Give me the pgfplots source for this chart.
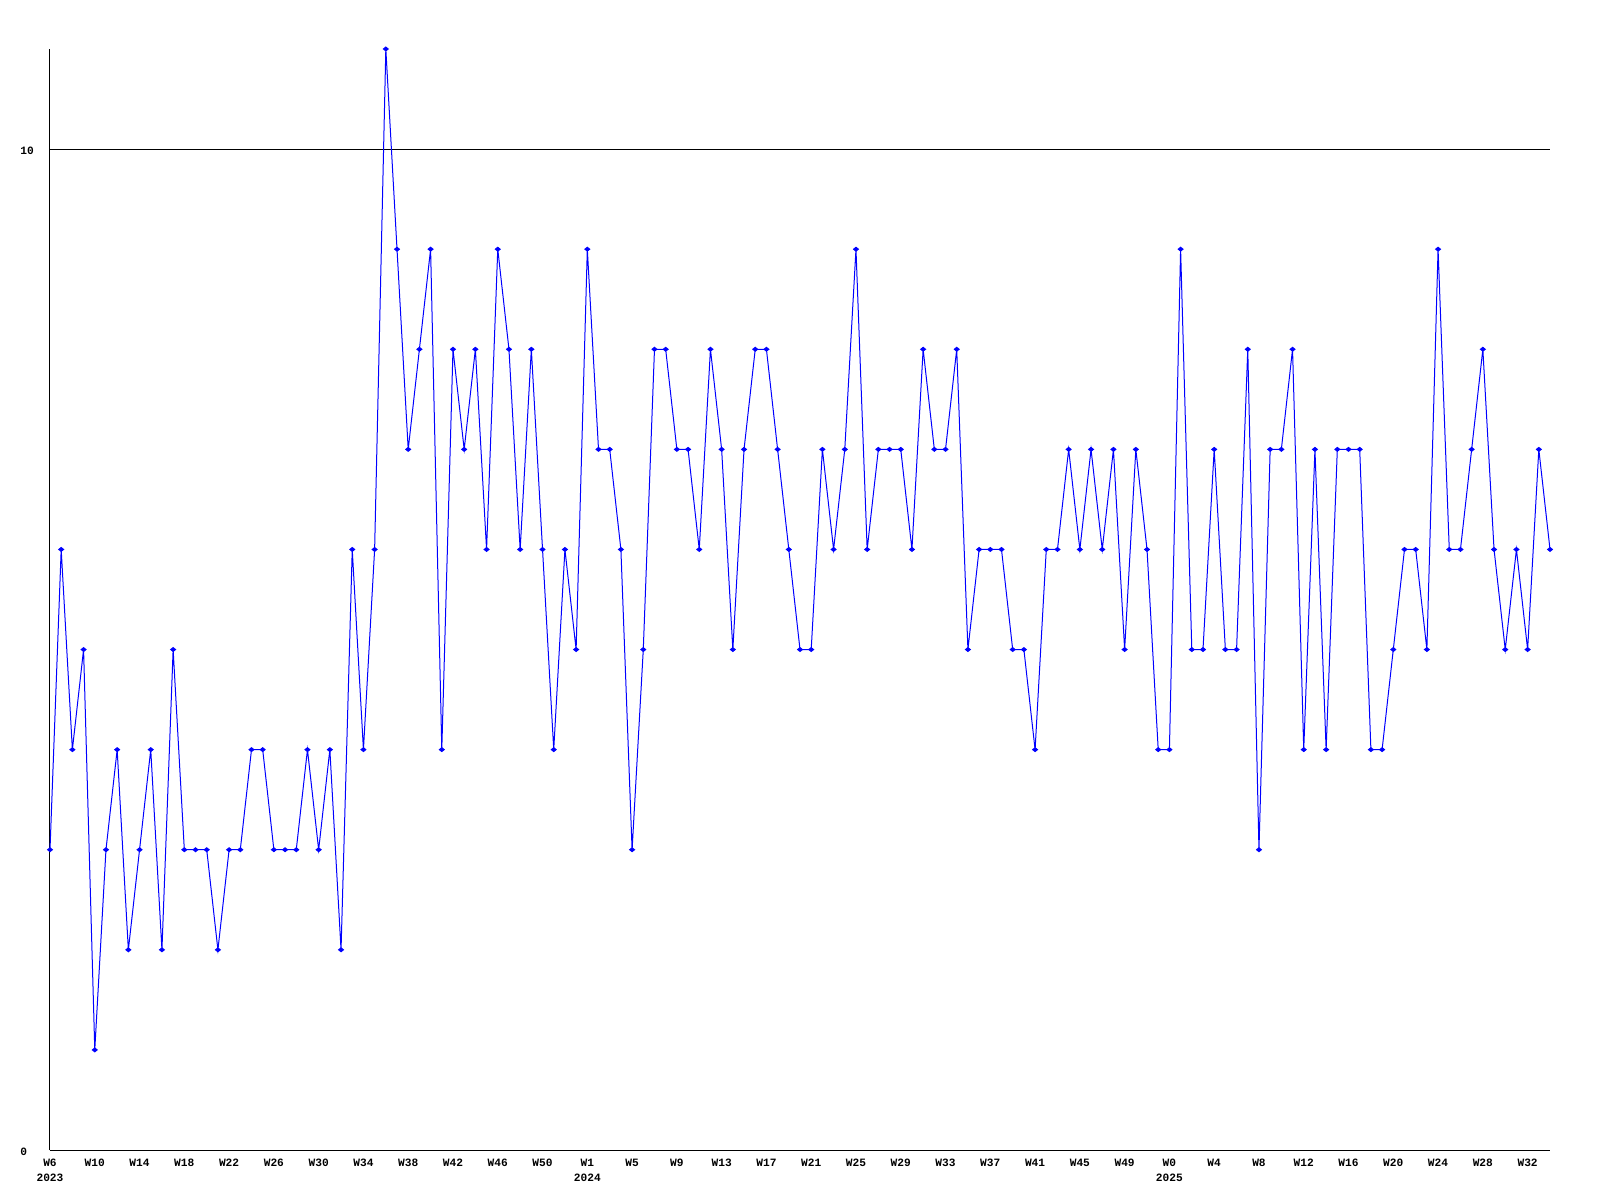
\documentclass[border=0pt]{standalone}
\usepackage{pgfplots}
\pgfplotsset{compat=1.18}
\usepackage{pgfplotstable}
\usepackage{fontspec}
\setmainfont{Liberation Mono}
\pgfplotstableread{
i v
0 3
1 6
2 4
3 5
4 1
5 3
6 4
7 2
8 3
9 4
10 2
11 5
12 3
13 3
14 3
15 2
16 3
17 3
18 4
19 4
20 3
21 3
22 3
23 4
24 3
25 4
26 2
27 6
28 4
29 6
30 11
31 9
32 7
33 8
34 9
35 4
36 8
37 7
38 8
39 6
40 9
41 8
42 6
43 8
44 6
45 4
46 6
47 5
48 9
49 7
50 7
51 6
52 3
53 5
54 8
55 8
56 7
57 7
58 6
59 8
60 7
61 5
62 7
63 8
64 8
65 7
66 6
67 5
68 5
69 7
70 6
71 7
72 9
73 6
74 7
75 7
76 7
77 6
78 8
79 7
80 7
81 8
82 5
83 6
84 6
85 6
86 5
87 5
88 4
89 6
90 6
91 7
92 6
93 7
94 6
95 7
96 5
97 7
98 6
99 4
100 4
101 9
102 5
103 5
104 7
105 5
106 5
107 8
108 3
109 7
110 7
111 8
112 4
113 7
114 4
115 7
116 7
117 7
118 4
119 4
120 5
121 6
122 6
123 5
124 9
125 6
126 6
127 7
128 8
129 6
130 5
131 6
132 5
133 7
134 6
}\datatable
\begin{document}
\begin{tikzpicture}
\path[use as bounding box] (-25pt,-25pt) rectangle (775pt,575pt);
\begin{axis}[
  at={(0,0)}, anchor=south west,
  scale only axis, width=750pt, height=550.5pt,
  xmin=0, xmax=134, ymin=0, ymax=11,
  axis x line*=bottom, axis y line*=left,
  axis line style={black, line width=0.5pt},
  major tick length=0pt,
  xtick={0,4,...,132},
  xticklabels={{W6\\2023},W10,W14,W18,W22,W26,W30,W34,W38,W42,W46,W50,{W1\\2024},W5,W9,W13,W17,W21,W25,W29,W33,W37,W41,W45,W49,{W0\\2025},W4,W8,W12,W16,W20,W24,W28,W32},
  ytick={0,10},
  yticklabels={0,10},
  ymajorgrids, major grid style={black, line width=0.5pt},
  tick label style={font=\fontsize{5.6}{7.5}\selectfont\bfseries},
  xticklabel style={anchor=north, align=center, inner sep=0pt, yshift=-4.2pt},
  yticklabel style={anchor=west, inner sep=0pt, xshift=-15pt, yshift=-0.8pt},
  /pgf/number format/assume math mode=true,
  clip=false,
]
\addplot[blue, line width=0.5pt, mark=diamond*, mark size=1.6pt, mark options={yscale=0.6, solid, fill=blue}] table[x=i, y=v] {\datatable};
\end{axis}
\end{tikzpicture}
\end{document}
